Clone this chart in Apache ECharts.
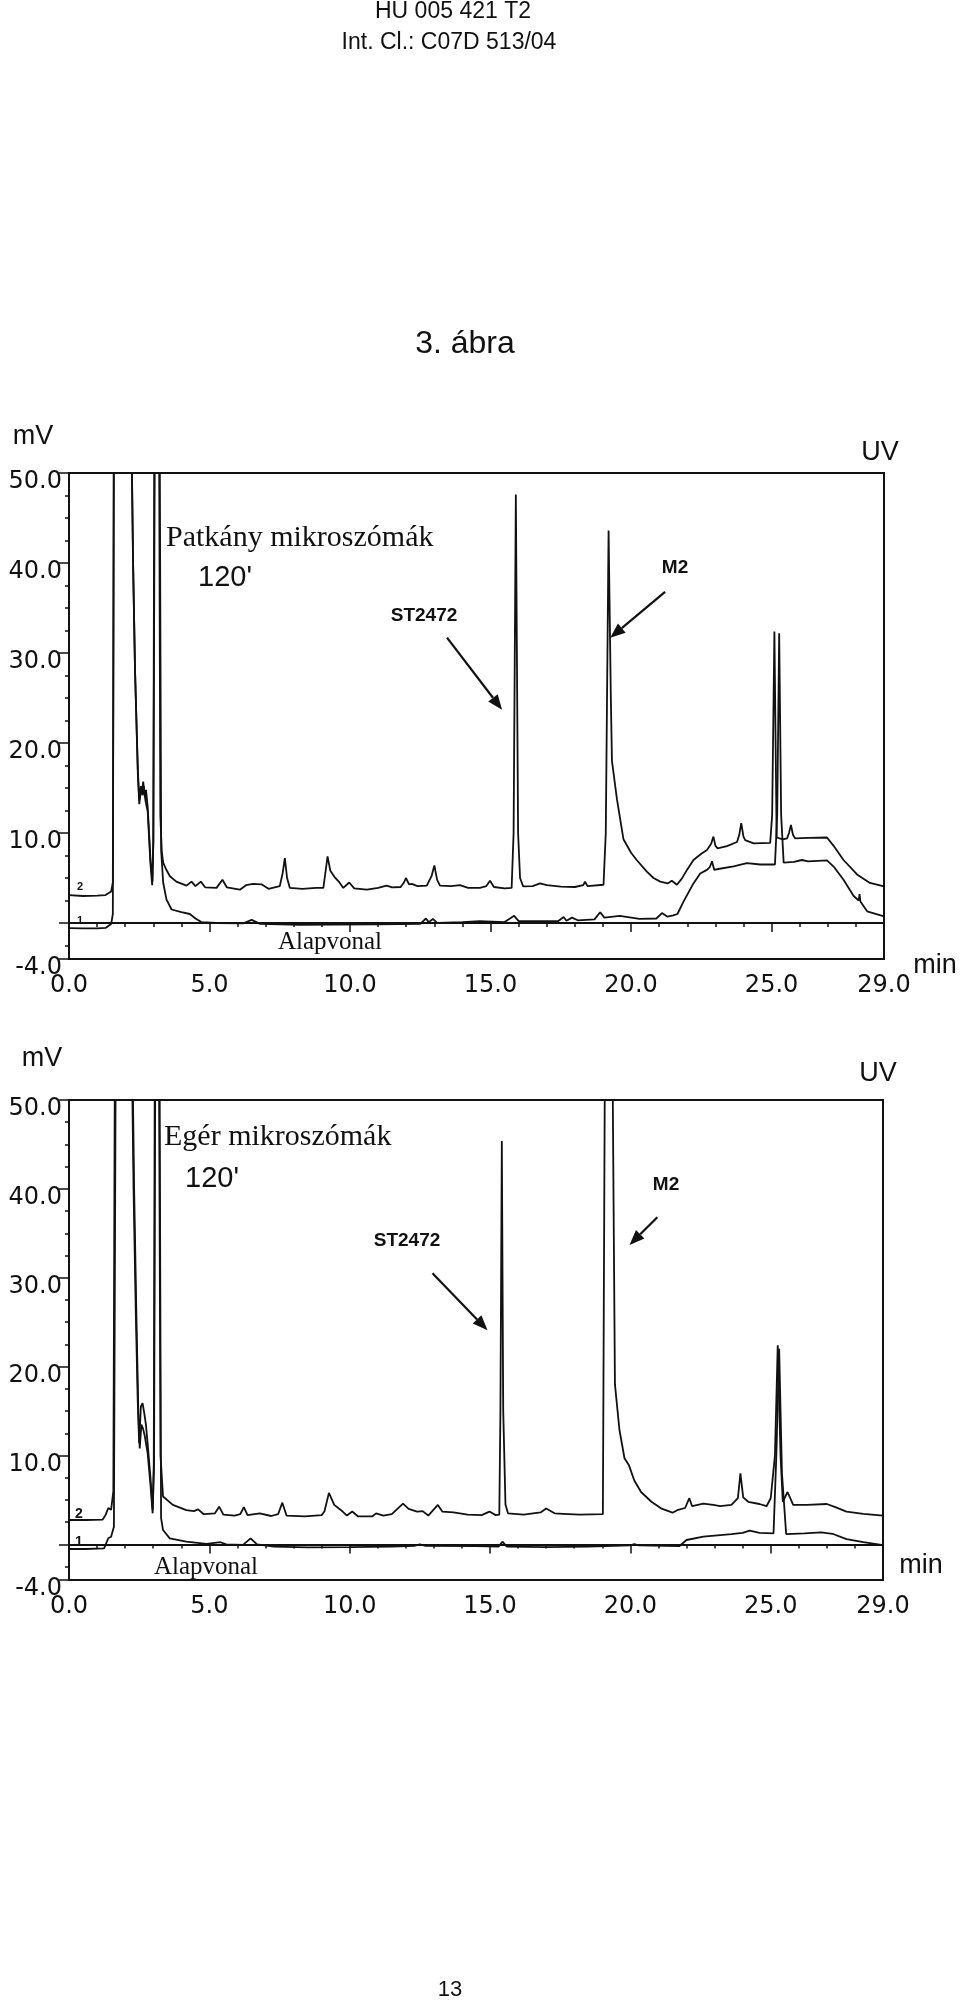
<!DOCTYPE html>
<html><head><meta charset="utf-8">
<script src="https://cdn.jsdelivr.net/npm/echarts@6/dist/echarts.min.js"></script>
<style>html,body{margin:0;padding:0;background:#fff}#c{width:960px;height:2000px}</style>
</head><body><div id="c"></div>
<script>
// ---------- DATA (time in min, signal in mV; values >50 are off-scale/saturated) ----------
const xTickLabels = [0, 5, 10, 15, 20, 25, 29];
const yTickLabels = [-4, 10, 20, 30, 40, 50];
const yMajorTicks = [-4, 0, 10, 20, 30, 40, 50];

// Rat microsomes (top chart), trace "2" = sample
const ratTrace2 = [[0,3.1],[0.5,3.0],[1.0,3.05],[1.3,3.1],[1.5,3.5],[1.56,4.5],[1.6,60],[2.2,60],[2.28,40],[2.35,28],[2.45,17],[2.5,13.7],[2.56,15.2],[2.6,14.6],[2.64,15.7],[2.7,14.0],[2.74,14.8],[2.8,12.9],[2.9,7.0],[2.97,4.6],[3.0,9],[3.04,60],[3.2,60],[3.25,12],[3.3,8],[3.35,6.7],[3.45,6.0],[3.59,5.2],[3.82,4.6],[4.18,4.15],[4.36,4.6],[4.5,4.1],[4.69,4.6],[4.85,3.95],[5.25,3.9],[5.46,4.8],[5.62,3.95],[6.08,3.7],[6.3,4.2],[6.55,4.35],[6.85,4.3],[7.1,3.8],[7.5,4.1],[7.6,5.5],[7.68,7.2],[7.76,5.0],[7.86,3.9],[8.3,3.8],[8.8,3.9],[9.05,3.9],[9.12,5.5],[9.2,7.4],[9.3,5.8],[9.45,5.1],[9.6,4.6],[9.76,3.9],[9.97,4.5],[10.15,3.85],[10.6,3.7],[11.0,3.9],[11.3,4.15],[11.5,3.95],[11.8,4.0],[11.92,4.5],[11.99,5.0],[12.1,4.3],[12.2,4.35],[12.4,4.1],[12.73,4.15],[12.9,5.2],[13.0,6.4],[13.1,4.8],[13.2,4.15],[13.6,4.1],[13.91,4.2],[14.2,3.9],[14.62,3.9],[14.85,4.1],[14.98,4.7],[15.12,4.0],[15.5,3.85],[15.75,3.9],[15.82,10],[15.9,47.6],[15.98,10],[16.05,5],[16.16,4.07],[16.5,4.1],[16.76,4.4],[17.0,4.2],[17.5,4.05],[18.0,4.0],[18.3,4.2],[18.36,4.6],[18.45,4.1],[19.02,4.25],[19.1,10],[19.2,43.6],[19.28,25],[19.32,18],[19.5,13.7],[19.73,9.3],[20.0,7.8],[20.2,7.0],[20.56,5.7],[20.8,5.0],[21.04,4.6],[21.3,4.4],[21.45,4.7],[21.63,4.25],[21.8,4.9],[21.99,5.9],[22.22,7.0],[22.5,7.7],[22.7,8.1],[22.85,8.8],[22.93,9.6],[23.0,8.6],[23.08,8.3],[23.41,8.55],[23.77,9.0],[23.85,9.8],[23.92,11.1],[24.0,9.6],[24.06,9.2],[24.36,8.85],[24.95,8.9],[25.02,12],[25.1,32.4],[25.18,9.5],[25.4,9.3],[25.55,9.4],[25.62,10],[25.69,10.9],[25.76,9.8],[25.84,9.4],[26.3,9.45],[26.97,9.5],[27.2,8.6],[27.56,7.0],[28.04,5.4],[28.5,4.45],[29.0,4.07]];
// Rat microsomes, trace "1" = baseline (Alapvonal)
const ratTrace1 = [[0,-0.56],[0.5,-0.6],[1.0,-0.6],[1.3,-0.55],[1.5,-0.1],[1.56,1],[1.6,60],[2.2,60],[2.28,40],[2.35,28],[2.45,16.5],[2.5,13.2],[2.56,14.8],[2.62,14.2],[2.66,15.2],[2.72,13.6],[2.8,12.4],[2.9,6.5],[2.96,4.2],[3.0,9],[3.06,60],[3.22,60],[3.28,8],[3.35,4.5],[3.47,2.6],[3.65,1.5],[4.0,1.2],[4.3,1.0],[4.5,0.5],[4.71,0.1],[5.25,0.0],[6.2,-0.05],[6.5,0.35],[6.8,-0.1],[7.5,-0.15],[8.2,-0.2],[9.5,-0.18],[11.0,-0.15],[12.5,-0.1],[12.7,0.5],[12.8,0.1],[12.95,0.45],[13.1,0.0],[14.0,0.1],[14.62,0.2],[15.5,0.1],[15.84,0.8],[16.0,0.2],[17.4,0.2],[17.6,0.66],[17.7,0.25],[17.9,0.6],[18.1,0.3],[18.7,0.4],[18.9,1.2],[19.05,0.6],[19.6,0.8],[20.3,0.45],[20.9,0.5],[21.1,1.1],[21.3,0.7],[21.5,0.85],[21.65,1.0],[21.87,2.4],[22.22,4.4],[22.46,5.5],[22.7,5.9],[22.8,6.2],[22.88,6.85],[22.96,5.9],[23.1,6.0],[23.65,6.3],[24.12,6.65],[24.6,6.5],[25.12,6.5],[25.2,12],[25.27,32.2],[25.34,12],[25.43,6.7],[25.8,6.8],[26.08,7.0],[26.3,6.85],[26.97,6.95],[27.2,6.3],[27.56,4.8],[27.92,3.0],[28.1,2.5],[28.13,3.2],[28.16,2.4],[28.4,1.3],[29.0,0.74]];

// Mouse microsomes (bottom chart), trace "2" = sample
const mouseTrace2 = [[0,2.75],[0.6,2.75],[1.2,2.8],[1.3,3.3],[1.4,4.1],[1.5,3.9],[1.58,6],[1.64,60],[2.22,60],[2.3,40],[2.38,26],[2.45,16],[2.5,11.4],[2.56,15.5],[2.62,15.9],[2.68,14.8],[2.74,13.5],[2.8,11.4],[2.9,7.6],[2.98,3.9],[3.02,9],[3.06,60],[3.2,60],[3.26,10],[3.35,5.4],[3.7,4.45],[4.18,3.87],[4.45,3.75],[4.6,3.95],[4.8,3.4],[5.2,3.5],[5.35,4.25],[5.5,3.35],[5.9,3.25],[6.1,3.4],[6.23,4.2],[6.36,3.3],[6.8,3.5],[7.2,3.2],[7.45,3.4],[7.6,4.7],[7.75,3.25],[8.4,3.15],[9.0,3.3],[9.1,3.7],[9.26,5.8],[9.45,4.45],[9.75,3.7],[9.9,3.25],[10.09,3.7],[10.3,3.15],[10.8,3.15],[10.94,3.5],[11.2,3.25],[11.5,3.4],[11.9,4.6],[12.1,4.0],[12.4,3.7],[12.6,3.75],[12.8,3.25],[13.14,4.45],[13.3,3.7],[13.7,3.6],[14.2,3.35],[14.7,3.3],[14.98,3.7],[15.2,3.3],[15.33,3.35],[15.37,15],[15.42,45.4],[15.47,15],[15.55,4.5],[15.64,3.5],[16.2,3.35],[16.8,3.6],[17.0,4.05],[17.3,3.5],[17.6,3.45],[18.2,3.35],[19.02,3.4],[19.1,60],[19.35,60],[19.45,18],[19.61,12.9],[19.79,9.7],[19.95,8.9],[20.14,7.2],[20.38,5.9],[20.75,4.8],[21.09,4.06],[21.5,3.57],[21.7,3.9],[21.95,4.1],[22.1,5.2],[22.2,4.3],[22.6,4.6],[22.95,4.45],[23.2,4.3],[23.6,4.45],[23.83,5.2],[23.92,8.0],[24.02,5.3],[24.2,4.8],[24.6,4.55],[24.85,4.3],[25.0,5.2],[25.15,10],[25.25,22.4],[25.35,10],[25.43,4.8],[25.6,5.9],[25.8,4.45],[26.3,4.45],[27.0,4.55],[27.3,4.2],[27.7,3.7],[28.3,3.45],[29.0,3.24]];
// Mouse microsomes, trace "1" = baseline (Alapvonal)
const mouseTrace1 = [[0,-0.51],[0.6,-0.51],[1.25,-0.45],[1.4,0.7],[1.5,0.87],[1.6,2],[1.67,60],[2.24,60],[2.32,40],[2.4,26],[2.47,15],[2.52,10.8],[2.58,13.5],[2.64,13.0],[2.7,12.2],[2.8,10.3],[2.9,6.8],[2.98,3.5],[3.03,9],[3.08,60],[3.22,60],[3.28,3],[3.35,1.62],[3.59,0.68],[4.18,0.31],[4.9,0.06],[5.4,0.25],[5.6,0.0],[6.2,-0.05],[6.47,0.68],[6.7,0.0],[7.3,-0.25],[8.5,-0.33],[10,-0.3],[11.5,-0.25],[12.3,-0.15],[12.5,0.0],[12.7,-0.15],[14.5,-0.2],[15.3,-0.25],[15.44,0.31],[15.6,-0.25],[17,-0.3],[18.5,-0.25],[20.0,-0.1],[20.14,0.05],[20.3,-0.1],[21.74,-0.2],[22.0,0.5],[22.6,0.87],[23.6,1.17],[24.0,1.3],[24.25,1.55],[24.6,1.3],[25.1,1.25],[25.2,10],[25.3,22.0],[25.4,8],[25.55,1.17],[26.2,1.25],[26.8,1.36],[27.2,1.2],[27.7,0.6],[28.3,0.25],[29.0,-0.07]];

// ---------- CHART ----------
const chart = echarts.init(document.getElementById('c'), null, {renderer: 'canvas'});
const BLACK = '#111';
const SANS = 'Liberation Sans, Arial, sans-serif';
const TICKFONT = 'DejaVu Sans, sans-serif';
const SERIF = 'Liberation Serif, Times New Roman, serif';

const xMinor = []; for (let i = 1; i < 29; i++) if (i % 5) xMinor.push(i);
const yMinor = []; for (let v = -2.5; v < 50; v += 2.5) if (v % 10) yMinor.push(v);

const grids = [
  {left: 69, top: 473, width: 815, height: 486},
  {left: 69, top: 1100, width: 814, height: 480}
];

const xAxes = [], yAxes = [];
grids.forEach((g, gi) => {
  xAxes.push({gridIndex: gi, type: 'value', min: 0, max: 29, position: 'bottom',
    axisLine: {show: true, lineStyle: {color: BLACK, width: 2}},
    axisTick: {show: true, customValues: xTickLabels, length: 9, lineStyle: {color: BLACK, width: 1.5}},
    axisLabel: {show: true, customValues: xTickLabels, formatter: v => v.toFixed(1), fontFamily: TICKFONT, fontSize: 24, color: BLACK, margin: 15},
    splitLine: {show: false}});
  xAxes.push({gridIndex: gi, type: 'value', min: 0, max: 29, position: 'bottom',
    axisLine: {show: false},
    axisTick: {show: true, customValues: xMinor, length: 4, lineStyle: {color: BLACK, width: 1.5}},
    axisLabel: {show: false}, splitLine: {show: false}});
  yAxes.push({gridIndex: gi, type: 'value', min: -4, max: 50, position: 'left',
    axisLine: {show: true, lineStyle: {color: BLACK, width: 2}},
    axisTick: {show: true, customValues: yMajorTicks, length: 10, lineStyle: {color: BLACK, width: 1.5}},
    axisLabel: {show: true, customValues: yTickLabels, formatter: v => v.toFixed(1), fontFamily: TICKFONT, fontSize: 24, color: BLACK, margin: 7, verticalAlign: 'top', lineHeight: 18},
    splitLine: {show: false}});
  yAxes.push({gridIndex: gi, type: 'value', min: -4, max: 50, position: 'left',
    axisLine: {show: false},
    axisTick: {show: true, customValues: yMinor, length: 4, lineStyle: {color: BLACK, width: 1.5}},
    axisLabel: {show: false}, splitLine: {show: false}});
});

function trace(data, gi) {
  return {type: 'line', data: data, xAxisIndex: gi * 2, yAxisIndex: gi * 2, showSymbol: false, symbol: 'none',
    clip: true, lineStyle: {color: BLACK, width: 1.8}, animation: false};
}

chart.setOption({
  animation: false,
  backgroundColor: '#fff',
  grid: grids.map(g => Object.assign({show: true, borderColor: BLACK, borderWidth: 2, backgroundColor: 'transparent'}, g)),
  xAxis: xAxes,
  yAxis: yAxes,
  series: [trace(ratTrace2, 0), trace(ratTrace1, 0), trace(mouseTrace2, 1), trace(mouseTrace1, 1)]
});

// ---------- ANNOTATIONS ----------
function txt(text, x, y, size, opt) {
  opt = opt || {};
  return {type: 'text', x: x, y: y, z: 100, silent: true, style: {text: text, fill: BLACK,
    font: (opt.bold ? 'bold ' : '') + size + 'px ' + (opt.font || SANS),
    align: opt.align || 'center', verticalAlign: opt.va || 'middle'}};
}
function arrow(gi, from, to) {
  const p0 = chart.convertToPixel({gridIndex: gi}, from);
  const p1 = chart.convertToPixel({gridIndex: gi}, to);
  const dx = p1[0] - p0[0], dy = p1[1] - p0[1], L = Math.sqrt(dx * dx + dy * dy);
  const ux = dx / L, uy = dy / L, hl = 15, hw = 6;
  const bx = p1[0] - ux * hl, by = p1[1] - uy * hl;
  return [
    {type: 'line', z: 100, silent: true, shape: {x1: p0[0], y1: p0[1], x2: bx, y2: by}, style: {stroke: BLACK, lineWidth: 2.2}},
    {type: 'polygon', z: 100, silent: true, shape: {points: [[p1[0], p1[1]], [bx - uy * hw, by + ux * hw], [bx + uy * hw, by - ux * hw]]}, style: {fill: BLACK}}
  ];
}

const graphics = [
  txt('HU 005 421 T2', 453, 12, 23),
  txt('Int. Cl.: C07D 513/04', 449, 43, 23),
  txt('3. ábra', 465, 344, 32),
  txt('13', 450, 1990, 22),
  // top chart
  txt('mV', 33, 437, 27),
  txt('UV', 880, 453, 27),
  txt('min', 935, 966, 27),
  txt('Patkány mikroszómák', 166, 538, 30, {font: SERIF, align: 'left'}),
  txt("120'", 225, 578, 29),
  txt('ST2472', 424, 616, 19, {bold: true}),
  txt('M2', 675, 568, 19, {bold: true}),
  txt('Alapvonal', 330, 942, 25, {font: SERIF}),
  txt('2', 80, 887, 11, {bold: true}),
  txt('1', 80, 921, 11, {bold: true}),
  // bottom chart
  txt('mV', 42, 1059, 27),
  txt('UV', 878, 1074, 27),
  txt('min', 921, 1566, 27),
  txt('Egér mikroszómák', 164, 1137, 30, {font: SERIF, align: 'left'}),
  txt("120'", 212, 1179, 29),
  txt('ST2472', 407, 1241, 19, {bold: true}),
  txt('M2', 666, 1185, 19, {bold: true}),
  txt('Alapvonal', 206, 1567, 25, {font: SERIF}),
  txt('2', 79, 1514, 14, {bold: true}),
  txt('1', 79, 1542, 14, {bold: true})
].concat(
  arrow(0, [13.45, 31.7], [15.41, 23.7]),
  arrow(0, [21.21, 36.8], [19.26, 31.7]),
  arrow(1, [12.95, 30.5], [14.91, 24.1]),
  arrow(1, [20.96, 36.8], [19.97, 33.7])
);
chart.setOption({graphic: graphics});
</script></body></html>
